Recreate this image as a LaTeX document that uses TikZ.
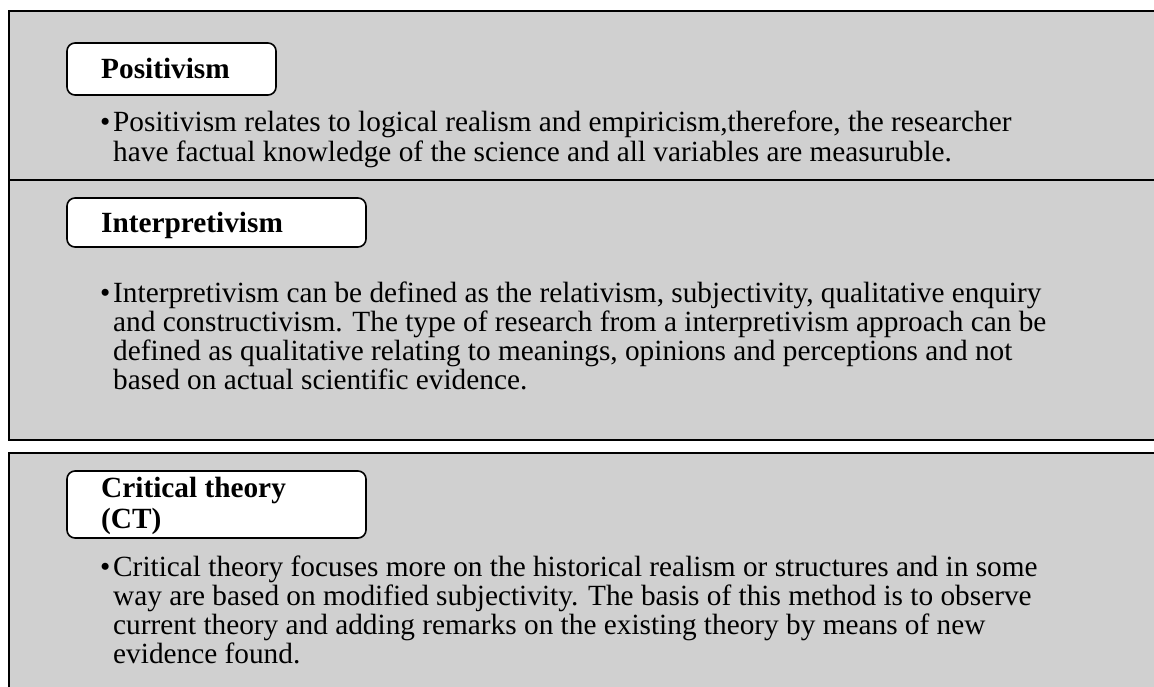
\documentclass[tikz,border=0pt]{standalone}
\usepackage{fontspec}
\setmainfont{Liberation Serif}
\definecolor{panelgray}{RGB}{208,208,208}
\begin{document}
\begin{tikzpicture}[x=1pt,y=-1pt,
  panel/.style={draw=black, line width=2.2pt, fill=panelgray},
  tabbox/.style={draw=black, line width=1.6pt, fill=white, rounded corners=8pt},
  heading/.style={anchor=base west, inner sep=0pt, font=\fontsize{29.3}{30}\selectfont\bfseries},
  bodyline/.style={anchor=base west, inner sep=0pt, font=\fontsize{29.3}{30}\selectfont},
  bulletmark/.style={anchor=base west, inner sep=0pt, font=\fontsize{29.3}{30}\selectfont}]
\useasboundingbox (0,0) rectangle (1154,686);
\clip (0,0) rectangle (1154,686);

% three panels, running off the right edge
\draw[panel] (9,11) rectangle (1170,180);
\draw[panel] (9,180) rectangle (1170,440);
\draw[panel] (9,453) rectangle (1170,720);

% heading tabs
\draw[tabbox] (67,43) rectangle (276,95);
\draw[tabbox] (67,198) rectangle (366,247);
\draw[tabbox] (67,471) rectangle (366,538);

\node[heading] (h1) at (101,78) {Positivism};
\node[heading] (h2) at (101,232) {Interpretivism};
\node[heading] (h3a) at (101,497) {Critical theory};
\node[heading] (h3b) at (101,528) {(CT)};

% Positivism
\node[bulletmark] (b1) at (100,131) {•};
\node[bodyline] (p1a) at (113,131) {Positivism relates to logical realism and empiricism,therefore, the researcher};
\node[bodyline] (p1b) at (113,161) {have factual knowledge of the science and all variables are measuruble.};

% Interpretivism
\node[bulletmark] (b2) at (100,302) {•};
\node[bodyline] (p2a) at (113,302) {Interpretivism can be defined as the relativism, subjectivity, qualitative enquiry};
\node[bodyline] (p2b) at (113,331) {and constructivism. The type of research from a interpretivism approach can be};
\node[bodyline] (p2c) at (113,360) {defined as qualitative relating to meanings, opinions and perceptions and not};
\node[bodyline] (p2d) at (113,389) {based on actual scientific evidence.};

% Critical theory
\node[bulletmark] (b3) at (100,576) {•};
\node[bodyline] (p3a) at (113,576) {Critical theory focuses more on the historical realism or structures and in some};
\node[bodyline] (p3b) at (113,605) {way are based on modified subjectivity. The basis of this method is to observe};
\node[bodyline] (p3c) at (113,634) {current theory and adding remarks on the existing theory by means of new};
\node[bodyline] (p3d) at (113,663) {evidence found.};
\end{tikzpicture}
\end{document}
